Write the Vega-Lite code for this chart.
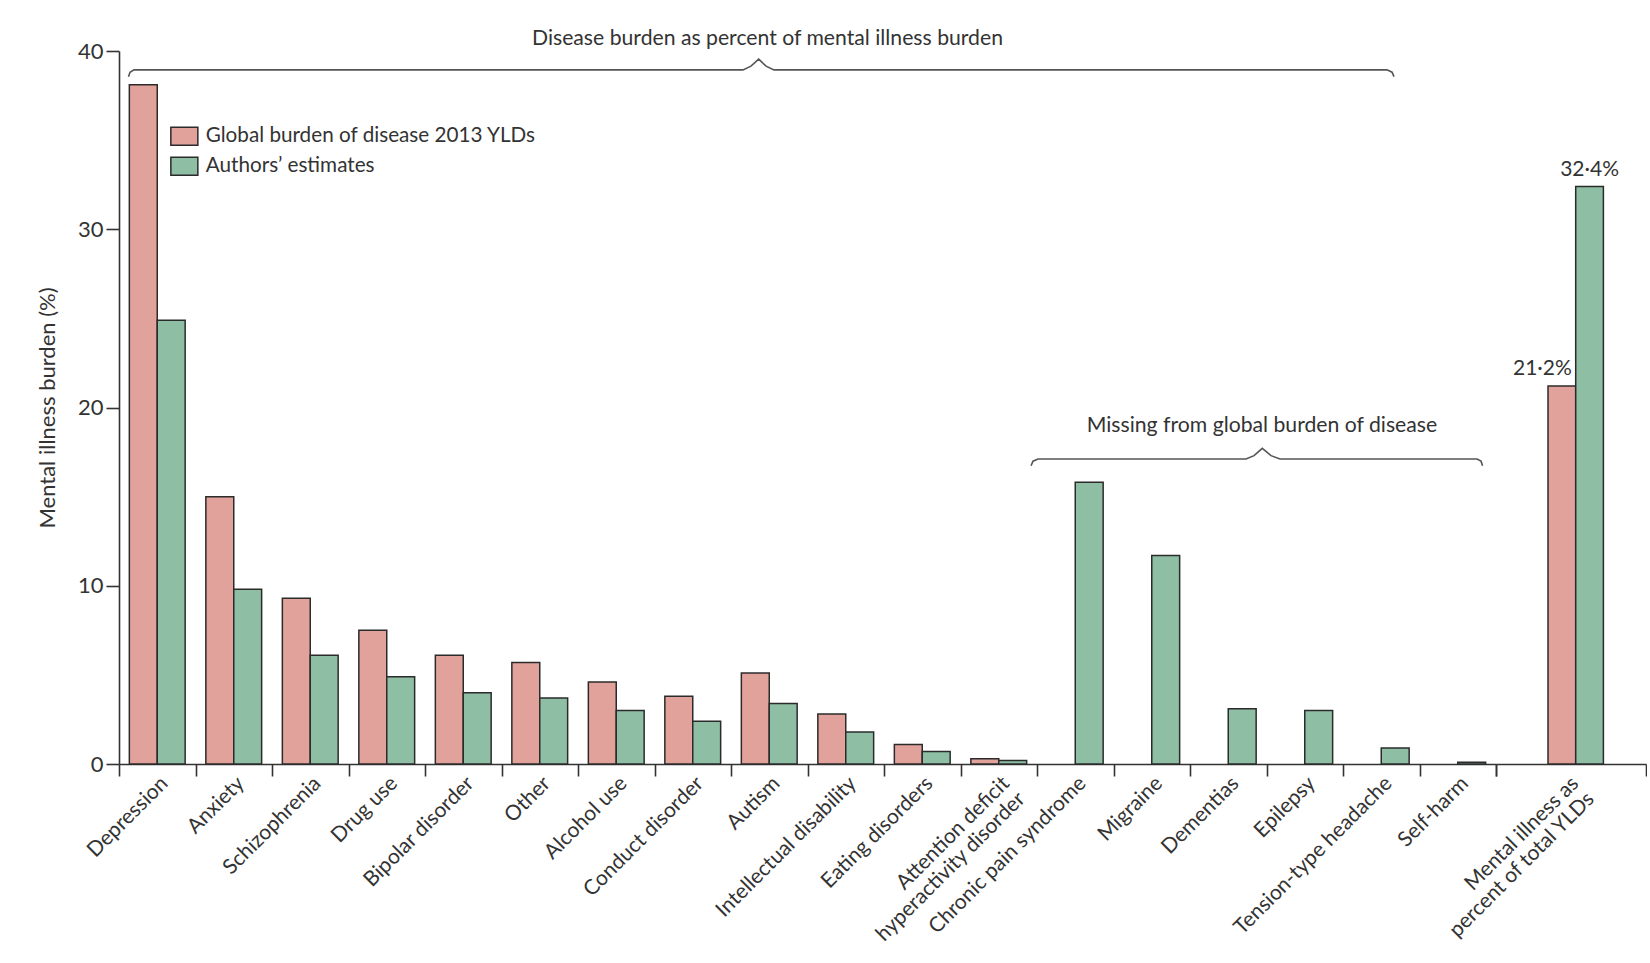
{
  "$schema": "https://vega.github.io/schema/vega-lite/v6.json",
  "background": "white",
  "padding": {"left": 36, "top": 28, "right": 0, "bottom": 0},
  "bounds": "flush",
  "spacing": 0,
  "config": {
    "font": "Lato",
    "view": {"stroke": null},
    "axis": {
      "grid": false,
      "domainColor": "#333333",
      "tickColor": "#333333",
      "labelColor": "#333333",
      "titleColor": "#333333",
      "labelFont": "Lato",
      "titleFont": "Lato",
      "domainWidth": 1.6,
      "tickWidth": 1.6
    },
    "text": {"font": "Lato", "color": "#333333"}
  },
  "datasets": {
    "burden": [
      {"disorder": "Depression", "source": "Global burden of disease 2013 YLDs", "value": 38.1},
      {"disorder": "Depression", "source": "Authors’ estimates", "value": 24.9},
      {"disorder": "Anxiety", "source": "Global burden of disease 2013 YLDs", "value": 15.0},
      {"disorder": "Anxiety", "source": "Authors’ estimates", "value": 9.8},
      {"disorder": "Schizophrenia", "source": "Global burden of disease 2013 YLDs", "value": 9.3},
      {"disorder": "Schizophrenia", "source": "Authors’ estimates", "value": 6.1},
      {"disorder": "Drug use", "source": "Global burden of disease 2013 YLDs", "value": 7.5},
      {"disorder": "Drug use", "source": "Authors’ estimates", "value": 4.9},
      {"disorder": "Bipolar disorder", "source": "Global burden of disease 2013 YLDs", "value": 6.1},
      {"disorder": "Bipolar disorder", "source": "Authors’ estimates", "value": 4.0},
      {"disorder": "Other", "source": "Global burden of disease 2013 YLDs", "value": 5.7},
      {"disorder": "Other", "source": "Authors’ estimates", "value": 3.7},
      {"disorder": "Alcohol use", "source": "Global burden of disease 2013 YLDs", "value": 4.6},
      {"disorder": "Alcohol use", "source": "Authors’ estimates", "value": 3.0},
      {"disorder": "Conduct disorder", "source": "Global burden of disease 2013 YLDs", "value": 3.8},
      {"disorder": "Conduct disorder", "source": "Authors’ estimates", "value": 2.4},
      {"disorder": "Autism", "source": "Global burden of disease 2013 YLDs", "value": 5.1},
      {"disorder": "Autism", "source": "Authors’ estimates", "value": 3.4},
      {"disorder": "Intellectual disability", "source": "Global burden of disease 2013 YLDs", "value": 2.8},
      {"disorder": "Intellectual disability", "source": "Authors’ estimates", "value": 1.8},
      {"disorder": "Eating disorders", "source": "Global burden of disease 2013 YLDs", "value": 1.1},
      {"disorder": "Eating disorders", "source": "Authors’ estimates", "value": 0.7},
      {"disorder": "Attention deficit hyperactivity disorder", "source": "Global burden of disease 2013 YLDs", "value": 0.3},
      {"disorder": "Attention deficit hyperactivity disorder", "source": "Authors’ estimates", "value": 0.2},
      {"disorder": "Chronic pain syndrome", "source": "Authors’ estimates", "value": 15.8},
      {"disorder": "Migraine", "source": "Authors’ estimates", "value": 11.7},
      {"disorder": "Dementias", "source": "Authors’ estimates", "value": 3.1},
      {"disorder": "Epilepsy", "source": "Authors’ estimates", "value": 3.0},
      {"disorder": "Tension-type headache", "source": "Authors’ estimates", "value": 0.9},
      {"disorder": "Self-harm", "source": "Authors’ estimates", "value": 0.1},
      {"disorder": "Mental illness as percent of total YLDs", "source": "Global burden of disease 2013 YLDs", "value": 21.2},
      {"disorder": "Mental illness as percent of total YLDs", "source": "Authors’ estimates", "value": 32.4}
    ],
    "braces": [
      {"brace": "mental", "pos": 0.124, "level": 38.56},
      {"brace": "mental", "pos": 0.144, "level": 38.81},
      {"brace": "mental", "pos": 0.196, "level": 38.94},
      {"brace": "mental", "pos": 8.157, "level": 38.94},
      {"brace": "mental", "pos": 8.261, "level": 39.15},
      {"brace": "mental", "pos": 8.362, "level": 39.54},
      {"brace": "mental", "pos": 8.458, "level": 39.15},
      {"brace": "mental", "pos": 8.562, "level": 38.94},
      {"brace": "mental", "pos": 16.575, "level": 38.94},
      {"brace": "mental", "pos": 16.641, "level": 38.81},
      {"brace": "mental", "pos": 16.667, "level": 38.56},
      {"brace": "missing", "pos": 11.922, "level": 16.73},
      {"brace": "missing", "pos": 11.948, "level": 16.99},
      {"brace": "missing", "pos": 12.013, "level": 17.11},
      {"brace": "missing", "pos": 14.732, "level": 17.11},
      {"brace": "missing", "pos": 14.837, "level": 17.3},
      {"brace": "missing", "pos": 14.945, "level": 17.71},
      {"brace": "missing", "pos": 15.059, "level": 17.3},
      {"brace": "missing", "pos": 15.176, "level": 17.11},
      {"brace": "missing", "pos": 17.752, "level": 17.11},
      {"brace": "missing", "pos": 17.804, "level": 16.99},
      {"brace": "missing", "pos": 17.824, "level": 16.73}
    ],
    "braceLabels": [
      {"text": "Disease burden as percent of mental illness burden", "pos": 8.477, "level": 40.66},
      {"text": "Missing from global burden of disease", "pos": 14.941, "level": 18.97}
    ]
  },
  "hconcat": [
    {
      "width": 1377,
      "height": 713,
      "layer": [
        {
          "data": {"name": "burden"},
          "transform": [{"filter": "datum.disorder !== 'Mental illness as percent of total YLDs'"}],
          "mark": {"type": "bar", "stroke": "#2b2b2b", "strokeWidth": 1.5},
          "encoding": {
            "x": {
              "field": "disorder",
              "type": "nominal",
              "sort": null,
              "scale": {"paddingInner": 0, "paddingOuter": 0},
              "axis": {
                "title": null,
                "tickBand": "extent",
                "tickSize": 12,
                "labelAngle": -45,
                "labelAlign": "right",
                "labelBaseline": "middle",
                "labelFontSize": 21,
                "labelPadding": 4,
                "labelOffset": 7,
                "labelLimit": 400,
                "labelLineHeight": 22,
                "labelExpr": "datum.label == 'Attention deficit hyperactivity disorder' ? ['Attention deficit', 'hyperactivity disorder'] : datum.label"
              }
            },
            "xOffset": {
              "field": "source",
              "type": "nominal",
              "sort": ["Global burden of disease 2013 YLDs", "Authors’ estimates"],
              "scale": {"paddingInner": 0, "paddingOuter": 0.371}
            },
            "y": {
              "field": "value",
              "type": "quantitative",
              "stack": null,
              "scale": {"domain": [0, 40], "nice": false},
              "axis": {
                "values": [0, 10, 20, 30, 40],
                "title": "Mental illness burden (%)",
                "titleFontSize": 22,
                "titleFontWeight": "normal",
                "titlePadding": 18,
                "labelFontSize": 22,
                "labelPadding": 3,
                "tickSize": 13
              }
            },
            "color": {
              "field": "source",
              "type": "nominal",
              "scale": {
                "domain": ["Global burden of disease 2013 YLDs", "Authors’ estimates"],
                "range": ["#e2a29c", "#8ebfa5"]
              },
              "legend": {
                "title": null,
                "orient": "none",
                "legendX": 55,
                "legendY": 75,
                "symbolType": "M-1.5,-1H1.5V1H-1.5Z",
                "symbolSize": 324,
                "symbolStrokeColor": "#2b2b2b",
                "symbolStrokeWidth": 1.5,
                "symbolOpacity": 1,
                "labelFont": "Lato",
                "labelFontSize": 20.7,
                "labelColor": "#333333",
                "labelOffset": 11,
                "labelLimit": 500,
                "rowPadding": 5
              }
            }
          }
        },
        {
          "data": {"name": "braces"},
          "mark": {"type": "line", "color": "#555555", "strokeWidth": 1.6, "clip": false},
          "encoding": {
            "x": {"field": "pos", "type": "quantitative", "scale": {"domain": [0, 18], "nice": false, "zero": false}, "axis": null},
            "y": {"field": "level", "type": "quantitative", "scale": {"domain": [0, 40], "nice": false}, "axis": null},
            "detail": {"field": "brace"}
          }
        },
        {
          "data": {"name": "braceLabels"},
          "mark": {"type": "text", "fontSize": 21.2, "align": "center", "baseline": "middle", "clip": false},
          "encoding": {
            "x": {"field": "pos", "type": "quantitative", "scale": {"domain": [0, 18], "nice": false, "zero": false}, "axis": null},
            "y": {"field": "level", "type": "quantitative", "scale": {"domain": [0, 40], "nice": false}, "axis": null},
            "text": {"field": "text"}
          }
        }
      ],
      "resolve": {"scale": {"x": "independent", "y": "independent"}}
    },
    {
      "width": 150,
      "height": 713,
      "data": {"name": "burden"},
      "transform": [
        {"filter": "datum.disorder === 'Mental illness as percent of total YLDs'"},
        {"calculate": "replace(format(datum.value, '.1f'), '.', '·') + '%'", "as": "label"}
      ],
      "encoding": {
        "x": {
          "field": "disorder",
          "type": "nominal",
          "scale": {"paddingInner": 0, "paddingOuter": 0},
          "axis": {
            "title": null,
            "tickBand": "extent",
            "tickSize": 12,
            "labelAngle": -45,
            "labelAlign": "right",
            "labelBaseline": "middle",
            "labelFontSize": 21,
            "labelPadding": 4,
            "labelOffset": 4,
            "labelLimit": 400,
            "labelLineHeight": 22,
            "labelExpr": "datum.label == 'Mental illness as percent of total YLDs' ? ['Mental illness as', 'percent of total YLDs'] : datum.label"
          }
        },
        "xOffset": {
          "field": "source",
          "type": "nominal",
          "scale": {
            "domain": ["left gap", "Global burden of disease 2013 YLDs", "Authors’ estimates", "right gap"],
            "paddingInner": 0,
            "paddingOuter": 0.708,
            "align": 0.62
          }
        },
        "y": {
          "field": "value",
          "type": "quantitative",
          "stack": null,
          "scale": {"domain": [0, 40], "nice": false},
          "axis": null
        }
      },
      "layer": [
        {
          "mark": {"type": "bar", "stroke": "#2b2b2b", "strokeWidth": 1.5},
          "encoding": {
            "color": {
              "field": "source",
              "type": "nominal",
              "scale": {
                "domain": ["Global burden of disease 2013 YLDs", "Authors’ estimates"],
                "range": ["#e2a29c", "#8ebfa5"]
              },
              "legend": null
            }
          }
        },
        {
          "transform": [{"filter": "datum.source === 'Authors’ estimates'"}],
          "mark": {"type": "text", "fontSize": 21, "align": "center", "baseline": "alphabetic", "dy": -10},
          "encoding": {"text": {"field": "label"}}
        },
        {
          "transform": [{"filter": "datum.source === 'Global burden of disease 2013 YLDs'"}],
          "mark": {"type": "text", "fontSize": 21, "align": "right", "baseline": "alphabetic", "dx": 10, "dy": -11},
          "encoding": {"text": {"field": "label"}}
        }
      ]
    }
  ],
  "resolve": {
    "scale": {"x": "independent", "xOffset": "independent", "y": "independent", "color": "independent"},
    "legend": {"color": "independent"}
  }
}
